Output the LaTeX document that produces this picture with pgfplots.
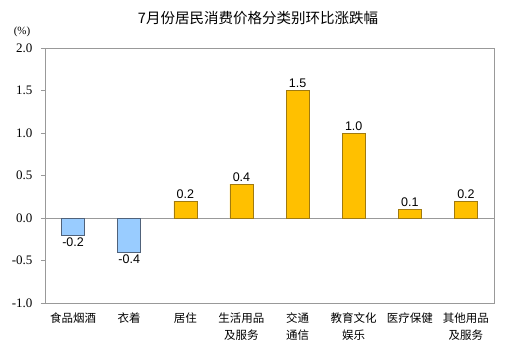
\documentclass[border=0pt]{standalone}
\usepackage{fontspec}
\setmainfont{Liberation Serif}
\newfontfamily\arial{Liberation Sans}
\newfontfamily\timesf{Liberation Serif}
\newfontfamily\cjk{Noto Sans CJK SC}
\usepackage{pgfplots}
\pgfplotsset{compat=1.18}
\definecolor{barY}{HTML}{FFC000}
\definecolor{barYd}{HTML}{A07A10}
\definecolor{barB}{HTML}{99CCFF}
\definecolor{barBd}{HTML}{50627A}
\definecolor{axgray}{HTML}{999999}
\begin{document}
\begin{tikzpicture}
\begin{axis}[
  name=ax,
  scale only axis, width=449pt, height=255pt,
  xmin=-0.5, xmax=7.5, ymin=-1, ymax=2,
  ytick={-1,-0.5,0,0.5,1,1.5,2},
  yticklabels={-1.0,-0.5,0.0,0.5,1.0,1.5,2.0},
  xtick={0,...,7},
  xticklabels={食品烟酒,衣着,居住,{生活用品\\及服务},{交通\\通信},{教育文化\\娱乐},医疗保健,{其他用品\\及服务}},
  xticklabel style={font=\cjk\fontsize{11.5}{17.5}\selectfont, align=center, anchor=north, yshift=-2pt},
  x tick style={draw=none},
  ytick pos=left, tick align=outside, major tick length=4pt,
  y tick style={axgray},
  axis line style={axgray},
  yticklabel style={font=\timesf\fontsize{13}{14}\selectfont, xshift=-5pt},
  /pgf/number format/.cd, fixed, fixed zerofill, precision=1, assume math mode=true,
  /pgfplots/.cd,
  ybar, bar width=23pt,
  nodes near coords,
  nodes near coords align={vertical},
  every node near coord/.append style={font=\arial\fontsize{12.5}{13}\selectfont, black, /pgf/number format/fixed, /pgf/number format/fixed zerofill, /pgf/number format/precision=1, inner sep=2.5pt},
  extra y ticks={0}, extra y tick labels={},
  extra y tick style={grid=major, major grid style={axgray, thin}, tick style={draw=none}},
]
\addplot[bar shift=0pt, fill=barB, draw=barBd] coordinates {(0,-0.2) (1,-0.4)};
\addplot[bar shift=0pt, fill=barY, draw=barYd] coordinates {(2,0.2) (3,0.4) (4,1.5) (5,1.0) (6,0.1) (7,0.2)};
\end{axis}
\pgfresetboundingbox
\path[use as bounding box] ([shift={(-45pt,-56pt)}]ax.south west) rectangle ([shift={(473pt,303pt)}]ax.south west);
\node[font=\cjk\fontsize{14.5}{16}\selectfont] at ([shift={(213pt,285pt)}]ax.south west) {7月份居民消费价格分类别环比涨跌幅};
\node[font=\timesf\fontsize{11}{12}\selectfont] at ([shift={(-23pt,271pt)}]ax.south west) {(\%)};
\end{tikzpicture}
\end{document}
